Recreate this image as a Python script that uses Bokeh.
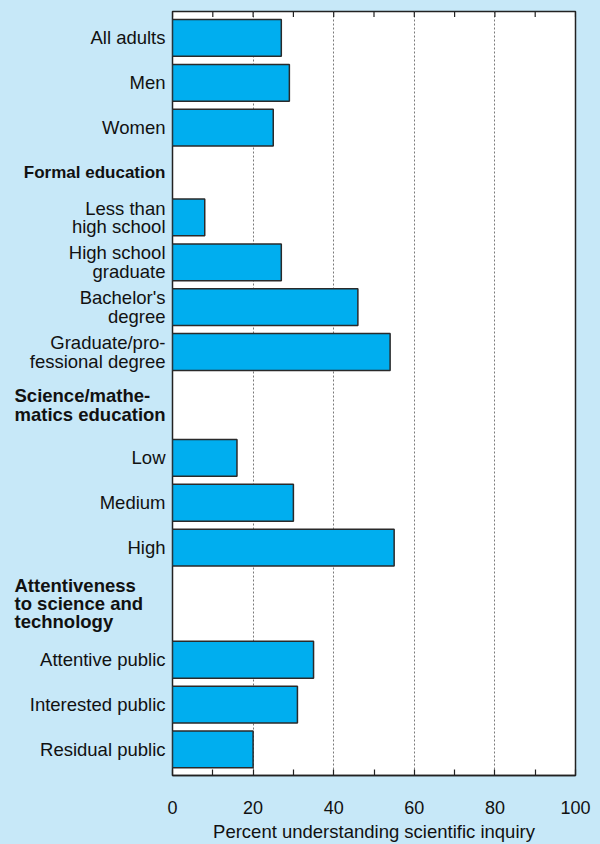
from bokeh.plotting import figure
from bokeh.layouts import row
from bokeh.models import Range1d, FixedTicker, ColumnDataSource
from bokeh.core.properties import value
from bokeh.embed import file_html
from bokeh.resources import INLINE

# ---------------- data ----------------
overall_labels = ["All adults", "Men", "Women"]
overall_values = [27, 29, 25]

education_header = "Formal education"
education_labels = ["Less than\nhigh school", "High school\ngraduate",
                    "Bachelor's\ndegree", "Graduate/pro-\nfessional degree"]
education_values = [8, 27, 46, 54]

science_header = "Science/mathe-\nmatics education"
science_labels = ["Low", "Medium", "High"]
science_values = [16, 30, 55]

attentive_header = "Attentiveness\nto science and\ntechnology"
attentive_labels = ["Attentive public", "Interested public", "Residual public"]
attentive_values = [35, 31, 20]

x_major_ticks = [0, 20, 40, 60, 80, 100]
x_minor_ticks = [10, 30, 50, 70, 90]
grid_ticks = [20, 40, 60, 80]
x_axis_title = "Percent understanding scientific inquiry"

# ---------------- layout (row heights in slot units) ----------------
BG = "#c7e8f8"
BAR = "#00aeef"
INK = "#111111"
FONT = "Liberation Sans"
header_heights = [1.0, 1.36, 1.5]

rows = [("bar", l, v, 1.0) for l, v in zip(overall_labels, overall_values)]
groups = [(education_header, education_labels, education_values),
          (science_header, science_labels, science_values),
          (attentive_header, attentive_labels, attentive_values)]
for gi, (h, labs, vals) in enumerate(groups):
    rows.append(("header", h, gi, header_heights[gi]))
    rows += [("bar", l, v, 1.0) for l, v in zip(labs, vals)]

ypos = []
y = 0.0
prev_h = None
for kind, lab, v, h in rows:
    if prev_h is not None:
        y += (prev_h + h) / 2.0
    ypos.append(y)
    prev_h = h

bar_y = [yp for r, yp in zip(rows, ypos) if r[0] == "bar"]
bar_v = [r[2] for r in rows if r[0] == "bar"]
bar_l = [r[1] for r in rows if r[0] == "bar"]
hdr_y = [yp for r, yp in zip(rows, ypos) if r[0] == "header"]
hdr_l = [r[1] for r in rows if r[0] == "header"]

src = ColumnDataSource(dict(y=bar_y, right=bar_v))

y_top = -0.59
y_bottom = ypos[-1] + 0.58

H = 844
LEFT_W = 166
MAIN_PAD = 6
B_TOP, B_BOT = 11, 67
px_per_slot = (H - B_TOP - B_BOT) / (y_bottom - y_top)
yr = Range1d(y_bottom, y_top)

# ---------------- label panel ----------------
lp = figure(width=LEFT_W, height=H, output_backend="svg", toolbar_location=None,
            x_range=Range1d(0, LEFT_W), y_range=yr,
            min_border_left=0, min_border_right=0,
            min_border_top=B_TOP, min_border_bottom=B_BOT)
lp.axis.visible = False
lp.grid.visible = False
lp.outline_line_color = None
lp.background_fill_color = BG
lp.border_fill_color = BG

lp.text(x=[165] * len(bar_l), y=bar_y, text=bar_l,
        text_align="right", text_baseline="middle",
        text_font=value(FONT), text_font_size="18.5px",
        text_line_height=0.89, text_color=INK)
lp.text(x=[165], y=hdr_y[:1], text=hdr_l[:1],
        text_align="right", text_baseline="middle",
        text_font=value(FONT), text_font_size="17px", text_font_style="bold",
        text_color=INK)
lp.text(x=[14] * (len(hdr_l) - 1), y=hdr_y[1:], text=hdr_l[1:],
        text_align="left", text_baseline="middle",
        text_font=value(FONT), text_font_size="18.5px", text_font_style="bold",
        text_line_height=0.87, text_color=INK)

# ---------------- main chart ----------------
W = 600 - LEFT_W
p = figure(width=W, height=H, output_backend="svg", toolbar_location=None,
           x_range=Range1d(0, 100), y_range=yr,
           min_border_left=MAIN_PAD, min_border_right=25,
           min_border_top=B_TOP, min_border_bottom=B_BOT)
p.background_fill_color = "white"
p.border_fill_color = BG
p.outline_line_color = "#222222"
p.outline_line_width = 1.5

p.hbar(y="y", left=0, right="right", height=0.82, source=src,
       fill_color=BAR, line_color="#2a2a2a", line_width=1.5)

# top tick marks (pointing into the frame)
top_ticks = sorted(x_major_ticks + x_minor_ticks)
p.segment(x0=top_ticks, x1=top_ticks,
          y0=[y_top] * len(top_ticks), y1=[y_top + 5.5 / px_per_slot] * len(top_ticks),
          line_color="#222222", line_width=1.2)

# grid
p.ygrid.visible = False
p.xgrid.ticker = FixedTicker(ticks=grid_ticks)
p.xgrid.grid_line_color = "#7a7a7a"
p.xgrid.grid_line_dash = "2 2"
p.xgrid.grid_line_width = 1

p.yaxis.visible = False

ax = p.xaxis[0]
ax.ticker = FixedTicker(ticks=x_major_ticks, minor_ticks=x_minor_ticks)
ax.major_tick_in = 6
ax.major_tick_out = 0
ax.minor_tick_in = 6
ax.minor_tick_out = 0
ax.major_tick_line_color = "#222222"
ax.minor_tick_line_color = "#222222"
ax.major_tick_line_width = 1.2
ax.minor_tick_line_width = 1.2
ax.axis_line_color = "#222222"
ax.axis_line_width = 1.5
ax.major_label_standoff = 25
ax.major_label_text_font = FONT
ax.major_label_text_font_size = "18px"
ax.major_label_text_color = INK
ax.axis_label = x_axis_title
ax.axis_label_standoff = 4
ax.axis_label_text_font = FONT
ax.axis_label_text_font_size = "18.5px"
ax.axis_label_text_font_style = "normal"
ax.axis_label_text_color = INK

layout = row(lp, p)
html = file_html(layout, INLINE)
html = html.replace("</head>",
                    "<style>html, body { background-color: %s !important; }</style></head>" % BG, 1)
open("out.html", "w").write(html)
